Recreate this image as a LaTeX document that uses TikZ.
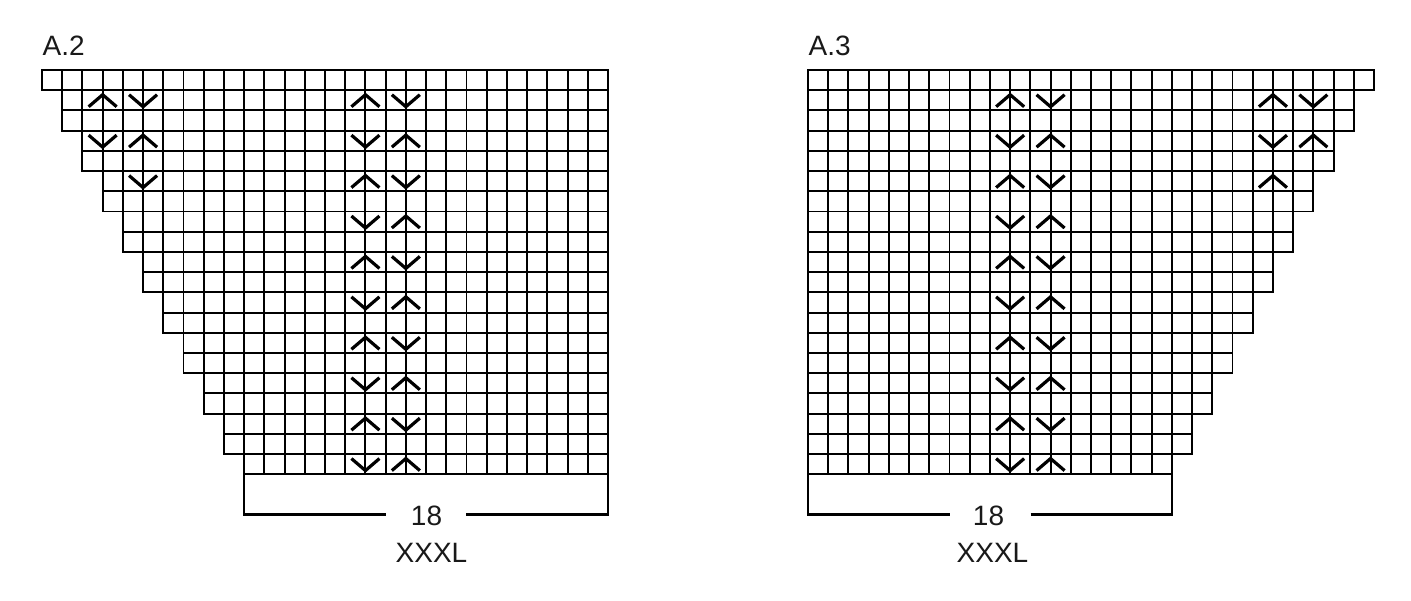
\documentclass[tikz,border=0pt]{standalone}
\usepackage{fontspec}
\setmainfont{Liberation Sans}
\begin{document}
\begin{tikzpicture}[x=1pt,y=-1pt,
  gridline/.style={line width=1.9pt,black},
  boxline/.style={line width=2.4pt,black},
  sym/.style={line width=3.2pt,black,line cap=butt,line join=miter},
  lbl/.style={inner sep=0pt,anchor=base,text=black!90,font=\fontsize{28}{30}\selectfont}]
\useasboundingbox (0,0) rectangle (1411,600);
\def\cs{20.214}
% ---------- A.2 grid ----------
\foreach \r in {1,...,20}{
  \pgfmathtruncatemacro{\s}{floor(\r/2)}
  \foreach \k in {\s,...,27}{
    \draw[gridline] ({42+\k*\cs},{70+(\r-1)*\cs}) rectangle ++(\cs,\cs);
  }
}
% ---------- A.3 grid ----------
\foreach \r in {1,...,20}{
  \pgfmathtruncatemacro{\e}{27-floor(\r/2)}
  \foreach \k in {0,...,\e}{
    \draw[gridline] ({808+\k*\cs},{70+(\r-1)*\cs}) rectangle ++(\cs,\cs);
  }
}
% symbol macros: #1 = chart left x, #2 = grid line index, #3 = row
\newcommand\upsym[3]{\draw[sym] ({#1+#2*\cs-14},{70+(#3-1)*\cs+16.5}) -- ({#1+#2*\cs},{70+(#3-1)*\cs+4.5}) -- ({#1+#2*\cs+14},{70+(#3-1)*\cs+16.5});}
\newcommand\dnsym[3]{\draw[sym] ({#1+#2*\cs-14},{70+(#3-1)*\cs+4.5}) -- ({#1+#2*\cs},{70+(#3-1)*\cs+16.5}) -- ({#1+#2*\cs+14},{70+(#3-1)*\cs+4.5});}
% A.2 symbols
\upsym{42}{3}{2}\dnsym{42}{5}{2}
\dnsym{42}{3}{4}\upsym{42}{5}{4}
\dnsym{42}{5}{6}
\foreach \r in {2,6,10,14,18}{\upsym{42}{16}{\r}\dnsym{42}{18}{\r}}
\foreach \r in {4,8,12,16,20}{\dnsym{42}{16}{\r}\upsym{42}{18}{\r}}
% A.3 symbols
\foreach \r in {2,6,10,14,18}{\upsym{808}{10}{\r}\dnsym{808}{12}{\r}}
\foreach \r in {4,8,12,16,20}{\dnsym{808}{10}{\r}\upsym{808}{12}{\r}}
\upsym{808}{23}{2}\dnsym{808}{25}{2}
\dnsym{808}{23}{4}\upsym{808}{25}{4}
\upsym{808}{23}{6}
% ---------- labels ----------
\node[lbl,anchor=base west] (ta2) at (42.5,55) {A.2};
\node[lbl,anchor=base west] (ta3) at (808.5,55) {A.3};
% A.2 bottom bracket
\coordinate (b2l) at ({42+10*\cs},{70+20*\cs});
\coordinate (b2r) at ({42+28*\cs},{70+20*\cs});
\node[lbl] (n2) at (426.5,525.5) {18};
\node[lbl] (s2) at (431.5,562.5) {XXXL};
\draw[boxline] (b2l) -- (b2l |- 0,514.3) -- (385.7,514.3);
\draw[boxline] (466,514.3) -- (b2r |- 0,514.3) -- (b2r);
% A.3 bottom bracket
\coordinate (b3l) at (808,{70+20*\cs});
\coordinate (b3r) at ({808+18*\cs},{70+20*\cs});
\node[lbl] (n3) at (988.5,525.5) {18};
\node[lbl] (s3) at (992.5,562.5) {XXXL};
\draw[boxline] (b3l) -- (b3l |- 0,514.3) -- (950,514.3);
\draw[boxline] (1030.7,514.3) -- (b3r |- 0,514.3) -- (b3r);
\end{tikzpicture}
\end{document}
